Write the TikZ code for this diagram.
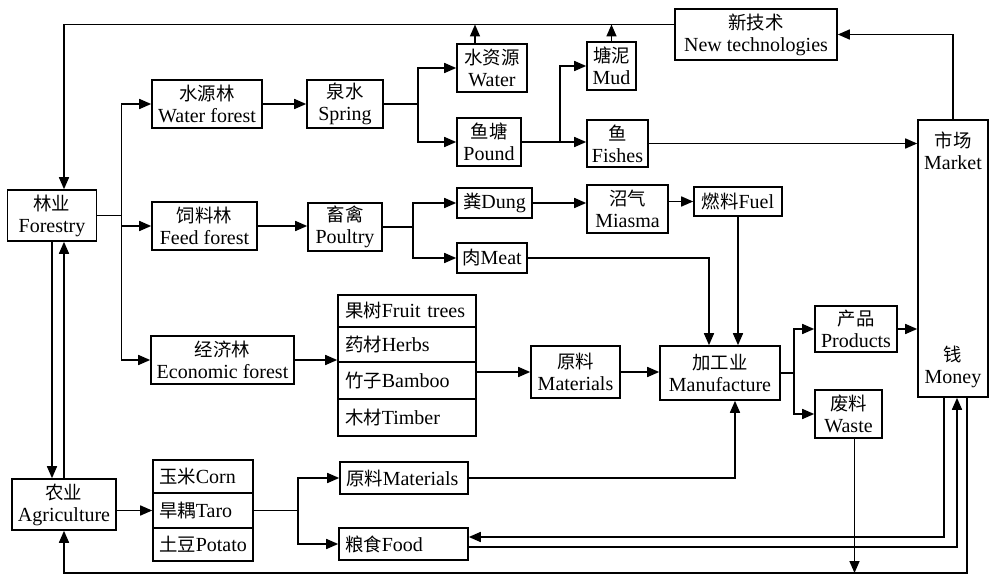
\documentclass[tikz,border=0pt]{standalone}
\usepackage{fontspec}
\setmainfont{Liberation Serif}
\newfontfamily\cjk{Noto Sans CJK SC}[Scale=0.92]
\usetikzlibrary{arrows.meta}
\newcommand{\zh}[1]{{\cjk #1}}
\tikzset{box/.style={draw, line width=1.6pt, inner sep=0pt, align=center,
   font=\fontsize{20}{22}\selectfont},
 listrow/.style={box, align=left, inner xsep=7pt},
 lbl/.style={inner sep=0pt, align=center, font=\fontsize{20}{22}\selectfont},
 link/.style={line width=1.6pt},
 arr/.style={line width=1.6pt, -{Triangle[length=12pt,width=10pt]}},
 }

\begin{document}
\begin{tikzpicture}[x=1pt,y=-1pt]
        \useasboundingbox (0,0) rectangle (989,577);
        \node[box, minimum width=89pt, minimum height=51pt] (forestry) at (52,215.5) {\zh{林业}\\Forestry};
        \node[box, minimum width=104pt, minimum height=51pt] (agri) at (64,504.5) {\zh{农业}\\Agriculture};
        \node[box, minimum width=110pt, minimum height=48pt] (wforest) at (207,104) {\zh{水源林}\\Water forest};
        \node[box, minimum width=105pt, minimum height=48pt] (fforest) at (204.5,226) {\zh{饲料林}\\Feed forest};
        \node[box, minimum width=143pt, minimum height=48pt] (econ) at (222.5,360) {\zh{经济林}\\Economic forest};
        \node[box, minimum width=76pt, minimum height=48pt] (spring) at (345,104) {\zh{泉水}\\Spring};
        \node[box, minimum width=74pt, minimum height=48pt] (poultry) at (345,227) {\zh{畜禽}\\Poultry};
        \node[box, minimum width=70pt, minimum height=48pt] (water) at (492,68) {\zh{水资源}\\Water};
        \node[box, minimum width=64pt, minimum height=48pt] (pound) at (489,142) {\zh{鱼塘}\\Pound};
        \node[box, minimum width=75pt, minimum height=30pt] (dung) at (494.5,203) {\zh{粪}Dung};
        \node[box, minimum width=70pt, minimum height=30pt] (meat) at (492,258) {\zh{肉}Meat};
        \node[box, minimum width=49pt, minimum height=48pt] (mud) at (611.5,66) {\zh{塘泥}\\Mud};
        \node[box, minimum width=61pt, minimum height=47pt] (fish) at (617.5,143.5) {\zh{鱼}\\Fishes};
        \node[box, minimum width=81pt, minimum height=48pt] (miasma) at (627.5,209) {\zh{沼气}\\Miasma};
        \node[box, minimum width=88pt, minimum height=29pt] (fuel) at (738,201.5) {\zh{燃料}Fuel};
        \node[box, minimum width=162pt, minimum height=51pt] (newtech) at (756,34.5) {\zh{新技术}\\New technologies};
        \node[box, minimum width=70pt, minimum height=277pt] (mbox) at (953,258.5) {};
        \node[lbl] (mkt) at (953,151) {\zh{市场}\\Market};
        \node[lbl] (money) at (953,367) {\zh{钱}\\Money};
        \node[listrow, text width=124pt, minimum height=32pt] (fruit) at (407,311) {\zh{果树}Fruit trees};
        \node[listrow, text width=124pt, minimum height=35pt] (herbs) at (407,344.5) {\zh{药材}Herbs};
        \node[listrow, text width=124pt, minimum height=37pt] (bamboo) at (407,380.5) {\zh{竹子}Bamboo};
        \node[listrow, text width=124pt, minimum height=37pt] (timber) at (407,417.5) {\zh{木材}Timber};
        \node[box, minimum width=89pt, minimum height=52pt] (mat) at (575.5,372) {\zh{原料}\\Materials};
        \node[box, minimum width=120pt, minimum height=54pt] (manu) at (720,373) {\zh{加工业}\\Manufacture};
        \node[box, minimum width=82pt, minimum height=46pt] (prod) at (856,329) {\zh{产品}\\Products};
        \node[box, minimum width=67pt, minimum height=48pt] (waste) at (848.5,414) {\zh{废料}\\Waste};
        \node[listrow, text width=88pt, inner xsep=6pt, minimum height=33pt] (corn) at (203,476.5) {\zh{玉米}Corn};
        \node[listrow, text width=88pt, inner xsep=6pt, minimum height=35pt] (taro) at (203,510.5) {\zh{旱耦}Taro};
        \node[listrow, text width=88pt, inner xsep=6pt, minimum height=33pt] (potato) at (203,544.5) {\zh{土豆}Potato};
        \node[listrow, text width=116pt, inner xsep=6pt, minimum height=32pt] (mat2) at (404,478) {\zh{原料}Materials};
        \node[listrow, text width=117pt, inner xsep=6pt, minimum height=32pt] (food) at (403.5,544) {\zh{粮食}Food};

        \draw[arr] (forestry.south) -- (forestry.south |- agri.north);
        \draw[arr] (agri.north) -- (agri.north |- forestry.south);
        \coordinate (tl) at ([yshift=10pt]newtech.west);
        \draw[arr] (tl) -| (agri.north |- forestry.north);
        \coordinate (jfor) at ([xshift=24pt]forestry.east);
        \draw[link] (forestry.east) -- (jfor);
        \draw[arr] (jfor) |- (wforest.west);
        \draw[arr] (jfor) |- (fforest.west);
        \draw[arr] (jfor) |- (econ.west);
        \draw[arr] (wforest) -- (spring);
        \draw[arr] (fforest.east) -- (fforest.east -| poultry.west);
        \coordinate (jspr) at ([xshift=34pt]spring.east);
        \draw[link] (spring.east) -- (jspr);
        \draw[arr] (jspr) |- (water.west);
        \draw[arr] (jspr) |- (pound.west);
        \coordinate (jpou) at ([xshift=30pt]poultry.east);
        \draw[link] (poultry.east) -- (jpou);
        \draw[arr] (jpou) |- (dung.west);
        \draw[arr] (jpou) |- (meat.west);
        \coordinate (jpond) at ([xshift=38pt]pound.east);
        \draw[arr] (pound.east) -- (pound.east -| fish.west);
        \draw[arr] (jpond) |- (mud.west);
        \coordinate (wup) at ([xshift=-17pt]water.north);
        \draw[arr] (wup) -- (wup |- tl);
        \draw[arr] (mud.north) -- (mud.north |- tl);
        \draw[arr] (fish.east) -- (fish.east -| mbox.west);
        \draw[arr] (mbox.north) |- (newtech.east);
        \draw[arr] (dung.east) -- (dung.east -| miasma.west);
        \draw[arr] (miasma.east |- fuel.west) -- (fuel.west);
        \draw[arr] (fuel.south) -- (fuel.south |- manu.north);
        \coordinate (mtin) at ([xshift=-11pt]manu.north);
        \draw[arr] (meat.east) -| (mtin);
        \draw[arr] (econ.east) -- (econ.east -| herbs.west);
        \draw[arr] (mat.west -| bamboo.east) -- (mat.west);
        \draw[arr] (mat.east) -- (mat.east -| manu.west);
        \coordinate (jman) at ([xshift=13pt]manu.east);
        \draw[link] (manu.east) -- (jman);
        \draw[arr] (jman) |- (prod.west);
        \draw[arr] (jman) |- (waste.west);
        \draw[arr] (prod.east) -- (prod.east -| mbox.west);
        \draw[arr] (agri.east |- taro.west) -- (taro.west);
        \coordinate (jcrop) at ([xshift=44pt]taro.east);
        \draw[link] (taro.east) -- (jcrop);
        \draw[arr] (jcrop) |- (mat2.west);
        \draw[arr] (jcrop) |- (food.west);
        \coordinate (m2in) at ([xshift=15pt]manu.south);
        \draw[arr] (mat2.east) -| (m2in);
        \coordinate (mfood) at ([xshift=-9pt]mbox.south);
        \draw[arr] (mfood) |- ([yshift=7pt]food.east);
        \coordinate (mret) at ([xshift=4pt]mbox.south);
        \draw[arr] ([yshift=-3pt]food.east) -| (mret);
        \coordinate (mag) at ([xshift=14pt]mbox.south);
        \coordinate (bot) at (500,573);
        \draw[arr] (mag) |- (bot) -| (agri.south);
        \coordinate (wdn) at ([xshift=6pt]waste.south);
        \draw[arr] (wdn) -- (wdn |- bot);
    \end{tikzpicture}
\end{document}
